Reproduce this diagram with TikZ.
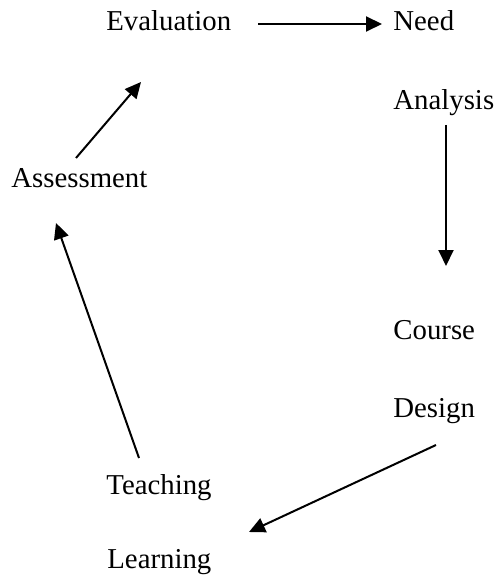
\documentclass[tikz,border=0pt]{standalone}
\usepackage{fontspec}
\setmainfont{Liberation Serif}
\usetikzlibrary{arrows.meta}
\begin{document}
\begin{tikzpicture}[x=0.5pt,y=-0.5pt,
  lbl/.style={anchor=base west,inner sep=0pt,font=\fontsize{14.4}{17}\selectfont},
  arr/.style={line width=1pt,-{Triangle[length=8pt,width=7.5pt]}}]
\useasboundingbox (0,0) rectangle (499,577);
\node[lbl] (eval) at (106,31) {Evaluation};
\node[lbl] (need) at (393,31) {Need};
\node[lbl] (anal) at (393,110) {Analysis};
\node[lbl] (assess) at (11,187) {Assessment};
\node[lbl] (course) at (393,339) {Course};
\node[lbl] (design) at (393,417) {Design};
\node[lbl] (teach) at (106,494) {Teaching};
\node[lbl] (learn) at (107,568) {Learning};
\coordinate (a1) at (258,24);
\coordinate (a2) at (382,24);
\coordinate (b1) at (446,125);
\coordinate (b2) at (446,266);
\coordinate (c1) at (436,445);
\coordinate (c2) at (249,532);
\coordinate (d1) at (139,458);
\coordinate (d2) at (56,223);
\coordinate (e1) at (76,158);
\coordinate (e2) at (141,82);
\draw[arr] (a1) -- (a2);
\draw[arr] (b1) -- (b2);
\draw[arr] (c1) -- (c2);
\draw[arr] (d1) -- (d2);
\draw[arr] (e1) -- (e2);
\end{tikzpicture}
\end{document}
